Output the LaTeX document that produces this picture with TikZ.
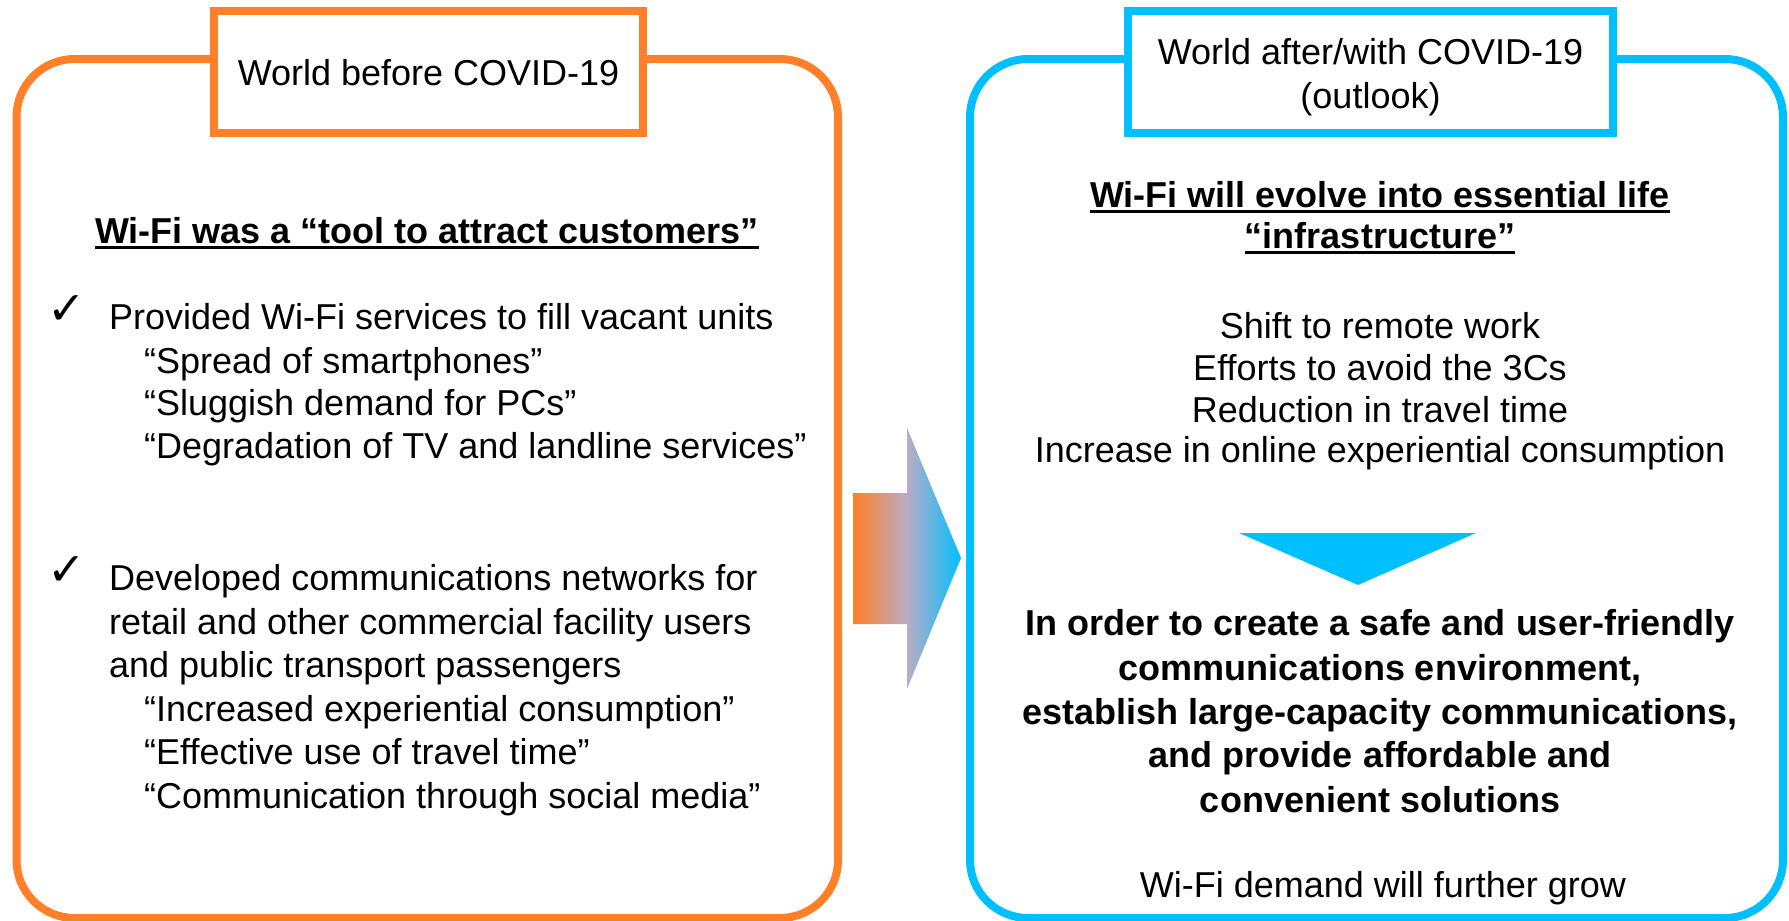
\documentclass[tikz,border=0pt]{standalone}
\usepackage{fontspec}
\setmainfont{Liberation Sans}
\newfontfamily\checkfont{DejaVu Sans}
\definecolor{wOrange}{RGB}{255,128,40}
\definecolor{wBlue}{RGB}{0,191,255}
\definecolor{wMid}{RGB}{186,172,198}
\pgfdeclarehorizontalshading{arrowshade}{100bp}{color(0bp)=(wOrange); color(25bp)=(wOrange); color(50bp)=(wMid); color(75bp)=(wBlue); color(100bp)=(wBlue)}
\newcommand\ulbar[1]{\setbox0\hbox{#1}\rlap{\rule[-6pt]{\wd0}{3.5pt}}\box0}
\tikzset{
  txt/.style={font=\fontsize{36}{43}\selectfont, inner sep=0pt, anchor=base},
  txtl/.style={txt, anchor=base west},
  btxt/.style={txt, font=\fontsize{36}{43}\selectfont\bfseries},
  chk/.style={inner sep=0pt, anchor=base west, font=\checkfont\fontsize{46}{50}\selectfont},
  bigbox/.style={line width=8pt, rounded corners=58pt},
  titlebox/.style={line width=8pt, fill=white, inner sep=0pt, minimum height=122pt},
}
\begin{document}
\begin{tikzpicture}[x=1pt,y=-1pt]
\useasboundingbox (0,0) rectangle (1789,921);
% big frames
\draw[bigbox, draw=wOrange] (16.5,59) rectangle (838,918);
\draw[bigbox, draw=wBlue] (970,59) rectangle (1783,918);
% title boxes
\node[titlebox, draw=wOrange, minimum width=429pt] (tb1) at (428.5,72) {};
\node[titlebox, draw=wBlue, minimum width=485pt] (tb2) at (1370.5,72) {};
\node[txt] (t1) at (428.5,85) {World before COVID-19};
\node[txt] (t2a) at (1370.5,64) {World after/with COVID-19};
\node[txt] (t2b) at (1370.5,108) {(outlook)};
% left column
\node[btxt] (lh) at (427,243) {\ulbar{Wi-Fi was a “tool to attract customers”}};
\node[chk] (c1) at (47,324) {✓};
\node[txtl] (l1) at (109,329) {Provided Wi-Fi services to fill vacant units};
\node[txtl] (l2) at (144,373) {“Spread of smartphones”};
\node[txtl] (l3) at (144,415) {“Sluggish demand for PCs”};
\node[txtl] (l4) at (144,458) {“Degradation of TV and landline services”};
\node[chk] (c2) at (47,585) {✓};
\node[txtl] (l5) at (109,590) {Developed communications networks for};
\node[txtl] (l6) at (109,634) {retail and other commercial facility users};
\node[txtl] (l7) at (109,677) {and public transport passengers};
\node[txtl] (l8) at (144,721) {“Increased experiential consumption”};
\node[txtl] (l9) at (144,764) {“Effective use of travel time”};
\node[txtl] (l10) at (144,808) {“Communication through social media”};
% arrow
\shade[shading=arrowshade] (853,493) -- (907,493) -- (907,428) -- (961,558) -- (907,689) -- (907,624) -- (853,624) -- cycle;
% right column
\node[btxt] (rh1) at (1380,207) {\ulbar{Wi-Fi will evolve into essential life}};
\node[btxt] (rh2) at (1380,248) {\ulbar{“infrastructure”}};
\node[txt] (r1) at (1380,338) {Shift to remote work};
\node[txt] (r2) at (1380,380) {Efforts to avoid the 3Cs};
\node[txt] (r3) at (1380,422) {Reduction in travel time};
\node[txt] (r4) at (1380,462) {Increase in online experiential consumption};
\fill[wBlue] (1239,533) -- (1476,533) -- (1358,585) -- cycle;
\node[btxt] (b1) at (1380,635) {In order to create a safe and user-friendly};
\node[btxt] (b2) at (1380,680) {communications environment,};
\node[btxt] (b3) at (1380,724) {establish large-capacity communications,};
\node[btxt] (b4) at (1380,767) {and provide affordable and};
\node[btxt] (b5) at (1380,812) {convenient solutions};
\node[txt] (r5) at (1383,897) {Wi-Fi demand will further grow};
\end{tikzpicture}
\end{document}
